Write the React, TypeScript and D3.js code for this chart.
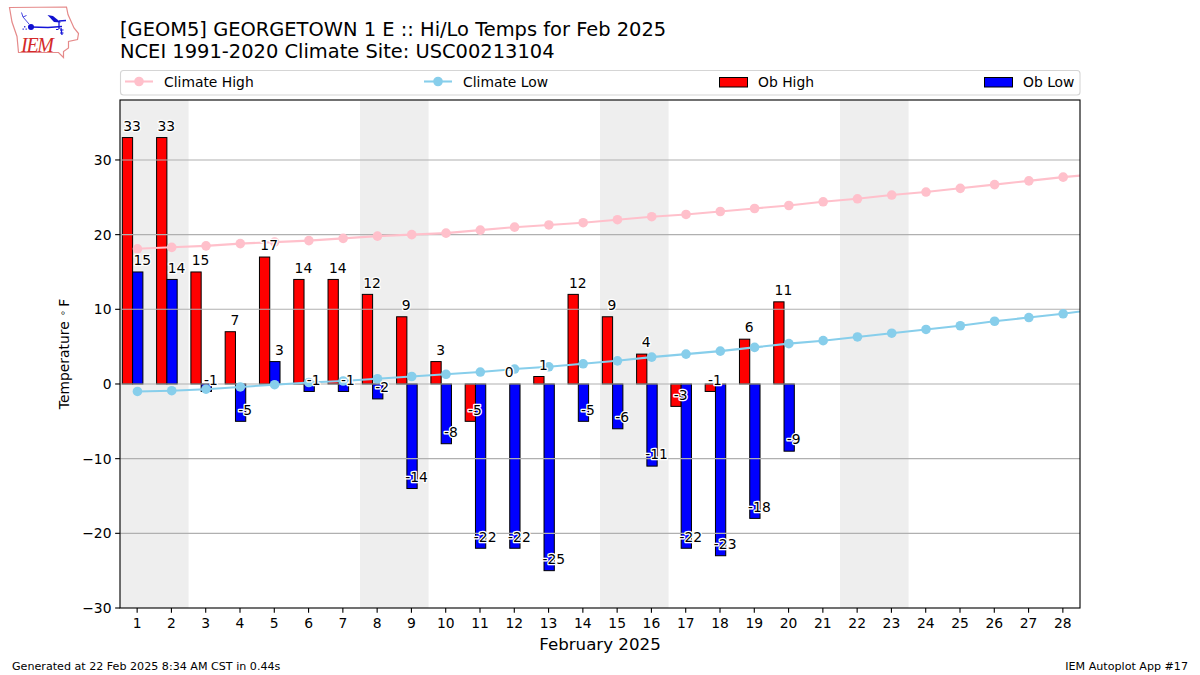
import React from "react";
import * as d3 from "d3";

const days = d3.range(1, 30);
const dayTicks = d3.range(1, 29);
const yTicks = [-30, -20, -10, 0, 10, 20, 30];
const obHigh = [33, 33, 15, 7, 17, 14, 14, 12, 9, 3, -5, 0, 1, 12, 9, 4, -3, -1, 6, 11];
const obLow = [15, 14, -1, -5, 3, -1, -1, -2, -14, -8, -22, -22, -25, -5, -6, -11, -22, -23, -18, -9];
const climateHigh = [18.1, 18.3, 18.5, 18.8, 19.0, 19.2, 19.5, 19.8, 20.0, 20.2, 20.6, 21.0, 21.3, 21.6, 22.0, 22.4, 22.7, 23.1, 23.5, 23.9, 24.4, 24.8, 25.3, 25.7, 26.2, 26.7, 27.2, 27.7, 28.1];
const climateLow = [-1.0, -0.9, -0.7, -0.4, -0.1, 0.2, 0.4, 0.7, 1.0, 1.3, 1.6, 2.0, 2.3, 2.7, 3.1, 3.6, 4.0, 4.4, 4.9, 5.4, 5.8, 6.3, 6.8, 7.3, 7.8, 8.4, 8.9, 9.4, 10.0];
const weekendStarts = [1, 8, 15, 22];

const W = 1200, H = 675;
const L = 120, R = 1080, T = 100, B = 608;
const FONT = "'DejaVu Sans', sans-serif";

const x = d3.scaleLinear().domain([0.5, 28.5]).range([L, R]);
const y = d3.scaleLinear().domain([-30, 38.03]).range([B, T]);
const dayW = x(1) - x(0);
const barW = dayW * 0.3;
const lineGen = d3.line<number>().x((_, i) => x(days[i])).y((d) => y(d));

function Logo() {
  const outline = "M9.5 7.5 L66.5 7 L68 14.5 L74 28 L78.5 33.5 L77.5 39.5 L68.5 41.5 L68.5 48 L63.5 51.5 L63.5 57.5 L58.5 52.5 L18.5 52.5 L17 36.5 L12 22 Z";
  return (
    <g>
      <path d={outline} fill="white" stroke="#e58a8a" strokeWidth={1.2} />
      <path d="M31 27 L48 27.5 L62 26.5" stroke="#1414d8" strokeWidth={1.7} fill="none" />
      <path d="M59 21 L66 20.5 M59 21 L59 29 M61 28 L62 35" stroke="#1414d8" strokeWidth={1.3} fill="none" />
      <circle cx={31} cy={27} r={3} fill="#1010d0" />
      <path d="M47.5 15 L53 16 L61 22.5 L54 22 Z" fill="#1010d0" />
      <path d="M29 24 L23 17 M21.5 12.5 L23 17 L26.5 15.5" stroke="#4646e0" strokeWidth={1} fill="none" />
      <path d="M24 26 l1.4 0 l0 1.4 l-1.4 0 Z M22.5 28.5 l1.4 0 l0 1.2 l-1.4 0 Z M25.5 28.5 l1.4 0 l0 1.2 l-1.4 0 Z" fill="#3c3cd8" />
      <path d="M56 29.5 l2.5 0 M60 33 l3.5 0 M60 30 l3.5 0" stroke="#1414d8" strokeWidth={1.2} />
      <text x={21} y={52} fontFamily="'Liberation Serif', serif" fontStyle="italic" fontSize={20} fill="#d42a2a" textLength={33}>IEM</text>
    </g>
  );
}

function ValueLabel({ v, px }: { v: number; px: number }) {
  return (
    <text x={px} y={y(v) - 6.7} textAnchor="middle" fontSize={13.89} fill="black" stroke="white" strokeWidth={2.6} paintOrder="stroke" strokeLinejoin="round">
      {v}
    </text>
  );
}

export default function App() {
  return (
    <svg width={W} height={H} viewBox={`0 0 ${W} ${H}`} fontFamily={FONT} style={{ position: "fixed", left: 0, top: 0, display: "block", background: "white" }}>
      <defs>
        <clipPath id="plot"><rect x={L} y={T} width={R - L} height={B - T} /></clipPath>
      </defs>
      <Logo />
      <text x={120} y={35.5} fontSize={19.44}>[GEOM5] GEORGETOWN 1 E :: Hi/Lo Temps for Feb 2025</text>
      <text x={120} y={57.5} fontSize={19.44}>NCEI 1991-2020 Climate Site: USC00213104</text>

      {/* legend */}
      <rect x={120.5} y={70.5} width={959.5} height={24.5} rx={3} fill="white" stroke="#d5d5d5" strokeWidth={1.1} />
      <line x1={125} x2={153} y1={81.5} y2={81.5} stroke="pink" strokeWidth={2.08} />
      <circle cx={139} cy={81.5} r={4.8} fill="pink" />
      <text x={164} y={86.5} fontSize={13.89}>Climate High</text>
      <line x1={424} x2={452} y1={81.5} y2={81.5} stroke="skyblue" strokeWidth={2.08} />
      <circle cx={438} cy={81.5} r={4.8} fill="skyblue" />
      <text x={463} y={86.5} fontSize={13.89}>Climate Low</text>
      <rect x={719.5} y={77.5} width={28} height={9.5} fill="red" stroke="black" strokeWidth={1} />
      <text x={758} y={86.5} fontSize={13.89}>Ob High</text>
      <rect x={984.5} y={77.5} width={28} height={9.5} fill="blue" stroke="black" strokeWidth={1} />
      <text x={1023} y={86.5} fontSize={13.89}>Ob Low</text>

      {/* weekend spans */}
      {weekendStarts.map((d) => (
        <rect key={d} x={x(d - 0.5)} y={T} width={dayW * 2} height={B - T} fill="#eeeeee" />
      ))}

      {/* bars */}
      {obHigh.map((v, i) => (
        <rect key={`h${i}`} x={x(days[i] - 0.45) + 0.6} y={Math.min(y(v), y(0))} width={barW} height={Math.abs(y(v) - y(0))} fill="red" stroke="black" strokeWidth={1} />
      ))}
      {obLow.map((v, i) => (
        <rect key={`l${i}`} x={x(days[i] - 0.15) + 0.6} y={Math.min(y(v), y(0))} width={barW} height={Math.abs(y(v) - y(0))} fill="blue" stroke="black" strokeWidth={1} />
      ))}

      {/* grid */}
      {yTicks.slice(1).map((t) => (
        <line key={t} x1={L} x2={R} y1={y(t)} y2={y(t)} stroke="#b0b0b0" strokeWidth={1.11} />
      ))}

      {/* climate lines */}
      <g clipPath="url(#plot)">
        <path d={lineGen(climateHigh) ?? ""} fill="none" stroke="pink" strokeWidth={2.08} />
        {climateHigh.map((v, i) => <circle key={i} cx={x(days[i]) + 0.3} cy={y(v)} r={4.8} fill="pink" />)}
        <path d={lineGen(climateLow) ?? ""} fill="none" stroke="skyblue" strokeWidth={2.08} />
        {climateLow.map((v, i) => <circle key={i} cx={x(days[i]) + 0.3} cy={y(v)} r={4.8} fill="skyblue" />)}
      </g>

      {/* value labels */}
      {obHigh.map((v, i) => <ValueLabel key={`th${i}`} v={v} px={x(days[i] - 0.15)} />)}
      {obLow.map((v, i) => <ValueLabel key={`tl${i}`} v={v} px={x(days[i] + 0.15)} />)}

      {/* frame */}
      <rect x={L} y={T} width={R - L} height={B - T} fill="none" stroke="black" strokeWidth={1.11} />

      {/* axes */}
      {dayTicks.map((d) => (
        <g key={d}>
          <line x1={x(d)} x2={x(d)} y1={B} y2={B + 4.86} stroke="black" strokeWidth={1.11} />
          <text x={x(d)} y={B + 19.5} textAnchor="middle" fontSize={13.89}>{d}</text>
        </g>
      ))}
      {yTicks.map((t) => (
        <g key={t}>
          <line x1={L - 4.86} x2={L} y1={y(t)} y2={y(t)} stroke="black" strokeWidth={1.11} />
          <text x={L - 8.5} y={y(t) + 5} textAnchor="end" fontSize={13.89}>{t < 0 ? `\u2212${-t}` : t}</text>
        </g>
      ))}
      <text x={600} y={650} textAnchor="middle" fontSize={16.67}>February 2025</text>
      <text transform="translate(69,354) rotate(-90)" textAnchor="middle" fontSize={13.89}>
        Temperature <tspan dx={1} dy={-3} fontSize={9.7}>∘</tspan><tspan dx={3} dy={3}>F</tspan>
      </text>

      <text x={12} y={670} fontSize={11.11}>Generated at 22 Feb 2025 8:34 AM CST in 0.44s</text>
      <text x={1188} y={670} textAnchor="end" fontSize={11.11}>IEM Autoplot App #17</text>
    </svg>
  );
}
